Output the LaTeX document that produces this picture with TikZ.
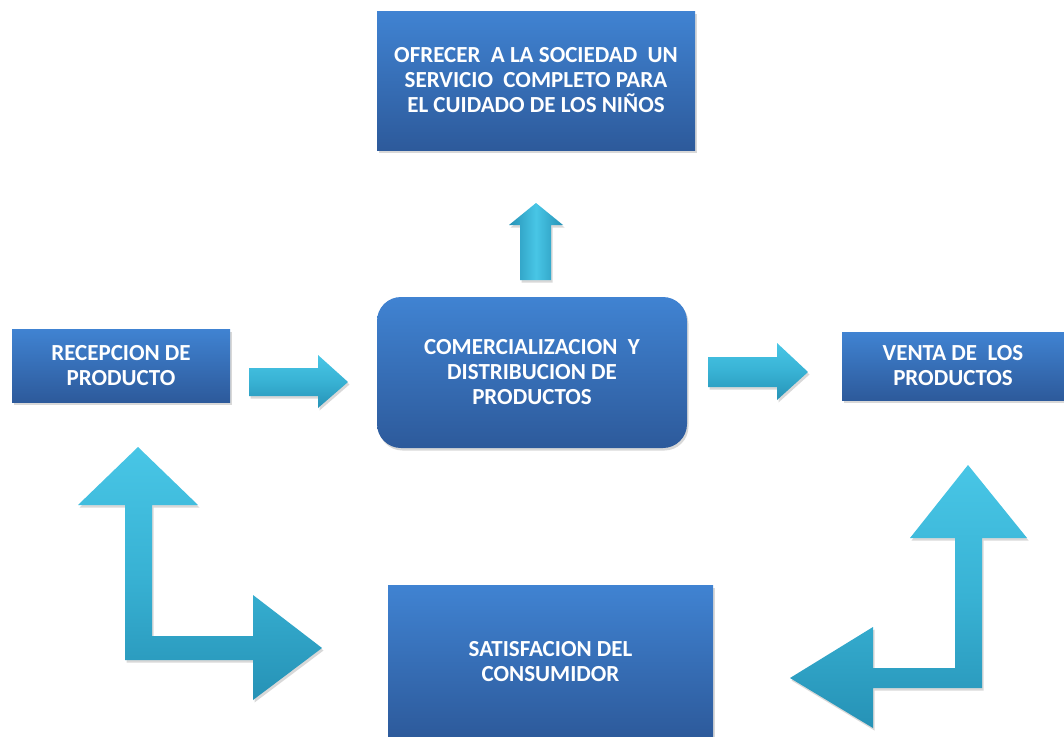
\documentclass[tikz,border=0pt]{standalone}
\usepackage{fontspec}
\setmainfont{Carlito}
\usetikzlibrary{shadows}

\definecolor{boxtop}{RGB}{64,131,210}
\definecolor{boxbot}{RGB}{45,90,155}
\definecolor{arrlight}{RGB}{72,198,230}
\definecolor{arrmid}{RGB}{56,178,212}
\definecolor{arrdark}{RGB}{38,146,182}

\tikzset{
  softshadow/.style={drop shadow={opacity=0.3, shadow xshift=1.5pt, shadow yshift=-2.5pt}},
  blockbox/.style={top color=boxtop, bottom color=boxbot, draw=none, text=white,
    font=\bfseries\fontsize{23}{25}\selectfont, align=center, inner sep=0pt, softshadow},
  harrow/.style={top color=arrlight, bottom color=arrdark, middle color=arrmid, softshadow},
  varrow/.style={left color=arrdark, right color=arrdark, middle color=arrlight, softshadow},
  larrow/.style={top color=arrlight, bottom color=arrdark, middle color=arrmid, softshadow},
}

\begin{document}
\begin{tikzpicture}[x=1pt, y=-1pt]
  \path[use as bounding box, clip] (0,0) rectangle (1064,736);
  \fill[white] (0,0) rectangle (1064,736);

  % boxes
  \node[blockbox, minimum width=318pt, minimum height=139pt] (goal) at (536,80.5)
    {OFRECER~ A LA SOCIEDAD~ UN\\SERVICIO~ COMPLETO PARA\\EL CUIDADO DE LOS NIÑOS};
  \node[blockbox, minimum width=218pt, minimum height=73pt] (recep) at (121,365.5)
    {RECEPCION DE\\PRODUCTO};
  \node[blockbox, rounded corners=24pt, minimum width=310pt, minimum height=151pt] (comer) at (532,372.5)
    {COMERCIALIZACION~ Y\\DISTRIBUCION DE\\PRODUCTOS};
  \node[blockbox, minimum width=222pt, minimum height=68pt] (venta) at (953,366)
    {VENTA DE~ LOS\\PRODUCTOS};
  \node[blockbox, minimum width=325pt, minimum height=153pt] (satis) at (550.5,661.5)
    {SATISFACION DEL\\CONSUMIDOR};

  % straight block arrows
  \path[harrow] (249,368) -- (318,368) -- (318,355) -- (348,382) -- (318,408)
    -- (318,396) -- (249,396) -- cycle;
  \path[harrow] (708,357) -- (777,357) -- (777,343) -- (808,372) -- (777,400)
    -- (777,387) -- (708,387) -- cycle;
  \path[varrow] (520,280) -- (520,225) -- (509,225) -- (536,203) -- (563,225)
    -- (551,225) -- (551,280) -- cycle;

  % bent block arrows
  \path[larrow] (125,660) -- (125,505) -- (78,505) -- (138,447) -- (198,505)
    -- (152,505) -- (152,636) -- (253,636) -- (253,595) -- (322,648)
    -- (253,700) -- (253,660) -- cycle;
  \path[larrow] (982,688) -- (982,538) -- (1027,538) -- (968,465) -- (910,538)
    -- (955,538) -- (955,668) -- (873,668) -- (873,627) -- (790,678)
    -- (873,728) -- (873,688) -- cycle;
\end{tikzpicture}
\end{document}
